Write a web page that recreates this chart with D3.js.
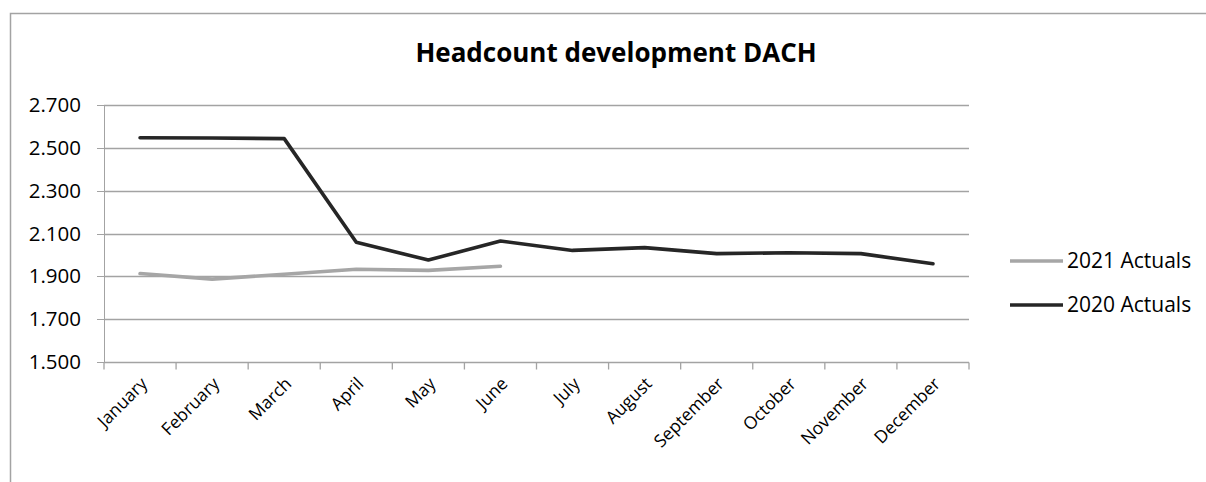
<!DOCTYPE html>
<html>
<head>
<meta charset="utf-8">
<script src="https://cdn.jsdelivr.net/npm/d3@7"></script>
<style>
  body { margin: 0; background: #fff; }
  svg { display: block; }
  svg text { font-family: "Open Sans", "Noto Sans", sans-serif; }
</style>
</head>
<body>
<div id="chart"></div>
<script>
// ---- data (headcount, thousands separator "." as in the source) ----
const months = ['January', 'February', 'March', 'April', 'May', 'June',
    'July', 'August', 'September', 'October', 'November', 'December'];
const actuals2021 = [1913, 1887, 1910, 1933, 1928, 1947];
const actuals2020 = [2547, 2546, 2543, 2059, 1976, 2065, 2021, 2034, 2006, 2010, 2006, 1959];
const yTicks = [1500, 1700, 1900, 2100, 2300, 2500, 2700];
const seriesNames = ['2021 Actuals', '2020 Actuals'];

const W = 1206, H = 482;
const plot = { left: 104, right: 969, top: 105, bottom: 362 };
const GRID = '#a3a3a3';
const COLORS = ['#a6a6a6', '#262626'];
const FONT = '"Open Sans", "Noto Sans", sans-serif';

const svg = d3.select('#chart').append('svg').attr('width', W).attr('height', H);

// chart frame (only top + left edges fall inside the picture)
svg.append('path')
    .attr('d', 'M10.5,' + H + 'V13.5H' + W)
    .attr('fill', 'none').attr('stroke', GRID).attr('stroke-width', 1.5);

svg.append('text')
    .attr('x', 616).attr('y', 62)
    .attr('text-anchor', 'middle')
    .attr('font-size', 26).attr('font-weight', 700).attr('fill', '#000')
    .text('Headcount development DACH');

const x = d3.scaleBand().domain(months).range([plot.left, plot.right]);
const y = d3.scaleLinear().domain([1500, 2700]).range([plot.bottom, plot.top]);

// gridlines + y axis
const yAxis = svg.append('g')
    .attr('transform', 'translate(' + plot.left + ',0)')
    .call(d3.axisLeft(y).tickValues(yTicks).tickSize(7).tickSizeOuter(0)
        .tickFormat(function (d) { return d3.format(',')(d).replace(',', '.'); }))
    .attr('font-family', FONT);
yAxis.select('.domain').attr('stroke', GRID);
yAxis.selectAll('.tick line').attr('stroke', GRID);
yAxis.selectAll('.tick text').attr('font-size', 20.5).attr('fill', '#000').attr('x', -23);

svg.append('g').selectAll('line').data(yTicks).enter().append('line')
    .attr('x1', plot.left).attr('x2', plot.right)
    .attr('y1', function (d) { return Math.round(y(d)) + 0.5; })
    .attr('y2', function (d) { return Math.round(y(d)) + 0.5; })
    .attr('stroke', GRID).attr('stroke-width', 1.3);
yAxis.selectAll('.tick').attr('transform', function (d) { return 'translate(0,' + (Math.round(y(d)) + 0.5) + ')'; });

// x axis: ticks on category boundaries, labels at band centres
const xg = svg.append('g').attr('transform', 'translate(0,' + (Math.round(plot.bottom) + 0.5) + ')');
const bounds = months.map(function (m) { return x(m); }).concat([plot.right]);
xg.selectAll('line').data(bounds).enter().append('line')
    .attr('x1', function (d) { return d; }).attr('x2', function (d) { return d; })
    .attr('y1', 0).attr('y2', 7)
    .attr('stroke', GRID).attr('stroke-width', 1.3);
xg.selectAll('text').data(months).enter().append('text')
    .attr('transform', function (d) {
        return 'translate(' + (x(d) + x.bandwidth() / 2 + 4) + ',18) rotate(-45)';
    })
    .attr('text-anchor', 'end')
    .attr('dy', '0.35em')
    .attr('font-size', 17.5).attr('fill', '#000')
    .text(function (d) { return d; });

// lines
const line = d3.line()
    .x(function (d, i) { return x(months[i]) + x.bandwidth() / 2; })
    .y(function (d) { return y(d); });

[actuals2021, actuals2020].forEach(function (vals, i) {
    svg.append('path')
        .datum(vals)
        .attr('d', line)
        .attr('fill', 'none')
        .attr('stroke', COLORS[i])
        .attr('stroke-width', 3.6)
        .attr('stroke-linejoin', 'round')
        .attr('stroke-linecap', 'round');
});

// legend
const legend = svg.append('g').selectAll('g').data(seriesNames).enter().append('g')
    .attr('transform', function (d, i) { return 'translate(1010,' + (261 + i * 44) + ')'; });
legend.append('line')
    .attr('x1', 0).attr('x2', 53)
    .attr('stroke', function (d, i) { return COLORS[i]; })
    .attr('stroke-width', 3.6);
legend.append('text')
    .attr('x', 57).attr('dy', '0.35em')
    .attr('font-size', 21).attr('fill', '#000')
    .text(function (d) { return d; });
</script>
</body>
</html>
